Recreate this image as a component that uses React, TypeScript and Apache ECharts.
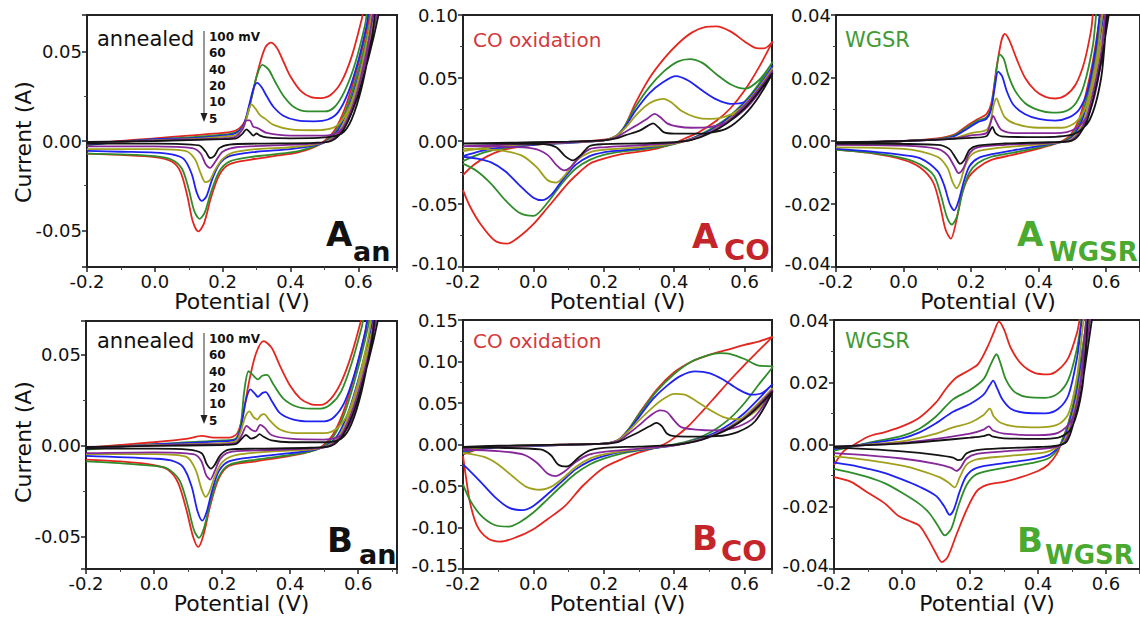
import React, { useEffect, useRef } from "react";
import * as echarts from "echarts";

// ---------- Colours / scan-rate labels ----------
const SCAN_RATES = ["100 mV", "60", "40", "20", "10", "5"];
const CURVE_COLORS = ["#e3261f", "#2f8c2a", "#1f22f0", "#a0a01c", "#86289a", "#141414"];

// ---------- Panel A_an ----------
const A_AN_100 = [[-0.2,-0.002],[-0.1,0.0],[0.0,0.0015],[0.1,0.003],[0.2,0.0045],[0.24,0.006],[0.265,0.011],[0.285,0.024],[0.305,0.04],[0.325,0.052],[0.342,0.055],[0.36,0.052],[0.38,0.044],[0.4,0.036],[0.43,0.028],[0.46,0.0245],[0.49,0.024],[0.52,0.026],[0.55,0.033],[0.58,0.047],[0.61,0.068],[0.625,0.08],
  [0.645,0.08],[0.62,0.058],[0.59,0.036],[0.56,0.018],[0.53,0.006],[0.5,0.0],[0.47,-0.0035],[0.42,-0.0065],[0.35,-0.0085],[0.28,-0.0105],[0.22,-0.013],[0.19,-0.019],[0.165,-0.032],[0.145,-0.046],[0.128,-0.0505],[0.112,-0.045],[0.095,-0.03],[0.075,-0.017],[0.05,-0.0115],[0.0,-0.009],[-0.1,-0.0078],[-0.2,-0.007]];
const A_AN_60 = [[-0.2,-0.0025],[-0.1,-0.0005],[0.0,0.001],[0.1,0.002],[0.2,0.0035],[0.24,0.005],[0.265,0.01],[0.285,0.024],[0.3,0.036],[0.317,0.0425],[0.335,0.04],[0.355,0.033],[0.38,0.025],[0.41,0.019],[0.45,0.0165],[0.5,0.0165],[0.53,0.019],[0.56,0.028],[0.59,0.043],[0.62,0.065],[0.635,0.08],
  [0.65,0.08],[0.625,0.058],[0.595,0.036],[0.565,0.018],[0.535,0.006],[0.505,0.0],[0.47,-0.003],[0.42,-0.0058],[0.35,-0.0075],[0.28,-0.009],[0.22,-0.0115],[0.19,-0.017],[0.165,-0.029],[0.147,-0.04],[0.132,-0.0435],[0.116,-0.039],[0.1,-0.027],[0.08,-0.0155],[0.05,-0.0105],[0.0,-0.0085],[-0.1,-0.0075],[-0.2,-0.007]];
const A_AN_40 = [[-0.2,-0.002],[-0.1,-0.0005],[0.0,0.001],[0.1,0.0015],[0.2,0.003],[0.24,0.0045],[0.262,0.009],[0.278,0.02],[0.292,0.03],[0.302,0.0325],[0.315,0.03],[0.33,0.025],[0.35,0.019],[0.38,0.014],[0.42,0.0115],[0.47,0.011],[0.51,0.012],[0.54,0.016],[0.57,0.027],[0.6,0.045],[0.625,0.065],[0.64,0.08],
  [0.655,0.08],[0.63,0.058],[0.6,0.036],[0.57,0.018],[0.54,0.006],[0.508,0.0],[0.47,-0.0025],[0.4,-0.0045],[0.3,-0.006],[0.22,-0.0085],[0.19,-0.013],[0.168,-0.022],[0.152,-0.031],[0.138,-0.0335],[0.124,-0.029],[0.108,-0.018],[0.085,-0.01],[0.05,-0.0075],[0.0,-0.0065],[-0.1,-0.006],[-0.2,-0.0055]];
const A_AN_20 = [[-0.2,-0.0015],[-0.1,-0.0005],[0.0,0.0005],[0.1,0.001],[0.2,0.0025],[0.24,0.0035],[0.262,0.008],[0.275,0.016],[0.285,0.0205],[0.297,0.018],[0.31,0.0145],[0.325,0.0125],[0.35,0.009],[0.4,0.0065],[0.47,0.006],[0.52,0.007],[0.55,0.011],[0.58,0.022],[0.61,0.042],[0.635,0.065],[0.65,0.08],
  [0.66,0.08],[0.635,0.058],[0.605,0.036],[0.575,0.018],[0.545,0.006],[0.51,0.0],[0.47,-0.002],[0.4,-0.0035],[0.3,-0.0045],[0.23,-0.0065],[0.2,-0.01],[0.178,-0.016],[0.162,-0.022],[0.149,-0.023],[0.135,-0.018],[0.118,-0.01],[0.09,-0.0055],[0.0,-0.0045],[-0.1,-0.0045],[-0.2,-0.0045]];
const A_AN_10 = [[-0.2,-0.001],[0.0,0.0003],[0.2,0.0015],[0.24,0.0025],[0.26,0.007],[0.27,0.0115],[0.28,0.0115],[0.29,0.008],[0.3,0.0075],[0.31,0.0065],[0.33,0.0045],[0.4,0.003],[0.5,0.003],[0.54,0.005],[0.57,0.012],[0.6,0.03],[0.63,0.055],[0.655,0.08],
  [0.665,0.08],[0.64,0.058],[0.61,0.036],[0.58,0.018],[0.55,0.006],[0.515,0.0],[0.47,-0.0015],[0.35,-0.0025],[0.24,-0.0035],[0.2,-0.006],[0.18,-0.011],[0.163,-0.015],[0.15,-0.013],[0.135,-0.007],[0.11,-0.004],[0.0,-0.003],[-0.2,-0.003]];
const A_AN_5 = [[-0.2,-0.0005],[0.0,0.0],[0.2,0.001],[0.24,0.0015],[0.258,0.004],[0.27,0.0065],[0.28,0.005],[0.29,0.003],[0.3,0.0042],[0.31,0.003],[0.33,0.002],[0.4,0.0015],[0.5,0.002],[0.55,0.004],[0.58,0.012],[0.61,0.03],[0.64,0.058],[0.66,0.08],
  [0.67,0.08],[0.645,0.058],[0.615,0.036],[0.585,0.018],[0.555,0.006],[0.52,0.0],[0.47,-0.001],[0.3,-0.0015],[0.22,-0.002],[0.19,-0.004],[0.175,-0.0085],[0.163,-0.0095],[0.15,-0.006],[0.13,-0.0025],[0.0,-0.0015],[-0.2,-0.0015]];

// ---------- Panel A_CO ----------
const A_CO_100 = [[-0.2,-0.027],[-0.17,-0.019],[-0.13,-0.012],[-0.09,-0.0075],[-0.05,-0.005],[0.0,-0.003],[0.1,-0.001],[0.2,0.001],[0.235,0.004],[0.26,0.012],[0.29,0.03],[0.33,0.05],[0.37,0.065],[0.41,0.077],[0.45,0.086],[0.49,0.0905],[0.52,0.091],[0.56,0.087],[0.6,0.079],[0.63,0.074],[0.655,0.0735],[0.68,0.079],
  [0.64,0.058],[0.6,0.04],[0.56,0.026],[0.52,0.016],[0.47,0.007],[0.43,0.002],[0.4,-0.002],[0.35,-0.006],[0.3,-0.0085],[0.25,-0.0105],[0.2,-0.014],[0.16,-0.018],[0.13,-0.025],[0.1,-0.033],[0.07,-0.043],[0.04,-0.053],[0.0,-0.066],[-0.04,-0.076],[-0.075,-0.0815],[-0.11,-0.079],[-0.15,-0.066],[-0.18,-0.052],[-0.2,-0.039]];
const A_CO_60 = [[-0.2,-0.016],[-0.15,-0.01],[-0.1,-0.0065],[-0.05,-0.0045],[0.0,-0.003],[0.1,-0.0015],[0.2,0.0005],[0.235,0.004],[0.26,0.012],[0.29,0.027],[0.33,0.043],[0.37,0.055],[0.41,0.063],[0.445,0.065],[0.48,0.062],[0.52,0.053],[0.56,0.045],[0.6,0.0415],[0.64,0.048],[0.68,0.063],
  [0.64,0.045],[0.6,0.031],[0.55,0.018],[0.5,0.009],[0.45,0.002],[0.4,-0.0025],[0.35,-0.005],[0.3,-0.007],[0.25,-0.0085],[0.2,-0.011],[0.16,-0.015],[0.12,-0.022],[0.08,-0.034],[0.04,-0.049],[0.0,-0.0595],[-0.04,-0.057],[-0.08,-0.047],[-0.12,-0.034],[-0.16,-0.024],[-0.2,-0.018]];
const A_CO_40 = [[-0.2,-0.012],[-0.15,-0.008],[-0.1,-0.0055],[0.0,-0.003],[0.1,-0.0015],[0.2,0.0005],[0.235,0.004],[0.26,0.011],[0.29,0.024],[0.33,0.038],[0.37,0.047],[0.405,0.0515],[0.44,0.048],[0.48,0.04],[0.52,0.033],[0.56,0.0295],[0.6,0.031],[0.64,0.042],[0.68,0.06],
  [0.64,0.043],[0.6,0.03],[0.55,0.017],[0.5,0.008],[0.45,0.002],[0.4,-0.002],[0.35,-0.004],[0.3,-0.006],[0.25,-0.0075],[0.2,-0.009],[0.16,-0.012],[0.12,-0.019],[0.08,-0.032],[0.05,-0.043],[0.025,-0.047],[0.0,-0.045],[-0.04,-0.035],[-0.08,-0.024],[-0.12,-0.017],[-0.16,-0.014],[-0.2,-0.0125]];
const A_CO_20 = [[-0.2,-0.008],[-0.1,-0.004],[0.0,-0.0025],[0.1,-0.001],[0.2,0.0005],[0.235,0.004],[0.26,0.01],[0.29,0.02],[0.32,0.028],[0.345,0.032],[0.37,0.0335],[0.395,0.03],[0.42,0.024],[0.46,0.019],[0.5,0.0175],[0.54,0.019],[0.58,0.024],[0.63,0.038],[0.68,0.058],
  [0.64,0.042],[0.6,0.029],[0.55,0.016],[0.5,0.007],[0.45,0.0015],[0.4,-0.002],[0.3,-0.005],[0.2,-0.007],[0.16,-0.009],[0.12,-0.016],[0.09,-0.027],[0.065,-0.033],[0.04,-0.031],[0.01,-0.021],[-0.03,-0.012],[-0.08,-0.008],[-0.14,-0.0065],[-0.2,-0.006]];
const A_CO_10 = [[-0.2,-0.004],[-0.1,-0.003],[0.0,-0.002],[0.1,-0.001],[0.2,0.0005],[0.235,0.003],[0.26,0.007],[0.29,0.012],[0.32,0.017],[0.345,0.0215],[0.36,0.019],[0.38,0.014],[0.41,0.0115],[0.45,0.0105],[0.5,0.011],[0.55,0.015],[0.6,0.025],[0.64,0.038],[0.68,0.056],
  [0.64,0.041],[0.6,0.028],[0.55,0.015],[0.5,0.0065],[0.45,0.001],[0.4,-0.0015],[0.3,-0.0035],[0.2,-0.005],[0.16,-0.0065],[0.13,-0.013],[0.105,-0.021],[0.086,-0.0233],[0.065,-0.019],[0.04,-0.011],[0.0,-0.006],[-0.1,-0.0045],[-0.2,-0.004]];
const A_CO_5 = [[-0.2,-0.002],[-0.1,-0.0015],[0.0,-0.001],[0.1,-0.0005],[0.2,0.0005],[0.235,0.002],[0.26,0.0045],[0.3,0.008],[0.325,0.012],[0.34,0.014],[0.355,0.011],[0.37,0.007],[0.4,0.0058],[0.45,0.0058],[0.5,0.0065],[0.55,0.01],[0.6,0.021],[0.64,0.035],[0.68,0.054],
  [0.64,0.039],[0.6,0.026],[0.55,0.014],[0.5,0.006],[0.45,0.0008],[0.4,-0.001],[0.3,-0.002],[0.2,-0.0025],[0.16,-0.004],[0.135,-0.011],[0.112,-0.0154],[0.09,-0.012],[0.065,-0.005],[0.03,-0.0025],[-0.1,-0.002],[-0.2,-0.002]];

// ---------- Panel A_WGSR ----------
const A_WG_100 = [[-0.2,-0.0008],[-0.1,-0.0004],[0.0,0.0],[0.1,0.0008],[0.15,0.002],[0.19,0.005],[0.22,0.007],[0.245,0.0085],[0.26,0.012],[0.275,0.023],[0.29,0.032],[0.3,0.034],[0.313,0.032],[0.335,0.026],[0.36,0.02],[0.39,0.016],[0.42,0.014],[0.45,0.0135],[0.48,0.0145],[0.51,0.018],[0.535,0.025],[0.555,0.035],[0.57,0.045],
  [0.59,0.045],[0.575,0.035],[0.56,0.025],[0.54,0.015],[0.52,0.007],[0.495,0.002],[0.47,0.0],[0.43,-0.0015],[0.38,-0.003],[0.32,-0.0045],[0.26,-0.006],[0.22,-0.0085],[0.19,-0.012],[0.17,-0.018],[0.155,-0.026],[0.14,-0.031],[0.124,-0.028],[0.107,-0.02],[0.087,-0.013],[0.05,-0.0085],[0.0,-0.006],[-0.1,-0.0038],[-0.2,-0.0027]];
const A_WG_60 = [[-0.2,-0.0008],[0.0,0.0],[0.1,0.0006],[0.15,0.0018],[0.19,0.0045],[0.22,0.0065],[0.245,0.0075],[0.26,0.011],[0.272,0.02],[0.285,0.0275],[0.297,0.026],[0.31,0.021],[0.33,0.016],[0.36,0.012],[0.4,0.0098],[0.44,0.009],[0.48,0.0095],[0.51,0.012],[0.535,0.018],[0.56,0.03],[0.58,0.045],
  [0.595,0.045],[0.58,0.035],[0.565,0.025],[0.545,0.015],[0.525,0.007],[0.5,0.002],[0.475,0.0],[0.43,-0.0013],[0.38,-0.0025],[0.32,-0.0038],[0.26,-0.005],[0.22,-0.007],[0.195,-0.01],[0.175,-0.016],[0.158,-0.024],[0.143,-0.0265],[0.128,-0.024],[0.11,-0.017],[0.09,-0.011],[0.05,-0.0075],[0.0,-0.0055],[-0.1,-0.0037],[-0.2,-0.0027]];
const A_WG_40 = [[-0.2,-0.0008],[0.0,0.0],[0.1,0.0005],[0.15,0.0015],[0.19,0.004],[0.22,0.006],[0.245,0.007],[0.258,0.0095],[0.27,0.017],[0.28,0.022],[0.292,0.0205],[0.305,0.016],[0.325,0.0115],[0.36,0.0085],[0.4,0.007],[0.45,0.0065],[0.49,0.0075],[0.52,0.01],[0.545,0.016],[0.57,0.03],[0.59,0.045],
  [0.6,0.045],[0.585,0.035],[0.57,0.025],[0.55,0.015],[0.53,0.007],[0.505,0.002],[0.48,0.0],[0.43,-0.001],[0.35,-0.0025],[0.27,-0.004],[0.22,-0.0055],[0.195,-0.008],[0.178,-0.013],[0.163,-0.019],[0.15,-0.022],[0.137,-0.02],[0.12,-0.014],[0.1,-0.0095],[0.05,-0.0055],[0.0,-0.0045],[-0.1,-0.0033],[-0.2,-0.0025]];
const A_WG_20 = [[-0.2,-0.0006],[0.0,0.0],[0.15,0.001],[0.2,0.0025],[0.245,0.0035],[0.257,0.006],[0.267,0.0115],[0.275,0.0135],[0.285,0.011],[0.3,0.0075],[0.33,0.0055],[0.4,0.0042],[0.47,0.0042],[0.51,0.006],[0.54,0.011],[0.57,0.025],[0.6,0.045],
  [0.605,0.045],[0.59,0.035],[0.575,0.025],[0.555,0.015],[0.535,0.007],[0.51,0.002],[0.485,0.0],[0.43,-0.0008],[0.32,-0.0018],[0.23,-0.003],[0.2,-0.0045],[0.182,-0.008],[0.168,-0.013],[0.157,-0.015],[0.145,-0.013],[0.13,-0.0085],[0.1,-0.005],[0.0,-0.0025],[-0.2,-0.002]];
const A_WG_10 = [[-0.2,-0.0005],[0.0,0.0],[0.15,0.0008],[0.2,0.0018],[0.245,0.0025],[0.257,0.0055],[0.265,0.008],[0.275,0.006],[0.29,0.0035],[0.33,0.0025],[0.45,0.0025],[0.51,0.004],[0.55,0.009],[0.58,0.022],[0.605,0.045],
  [0.61,0.045],[0.595,0.035],[0.58,0.025],[0.56,0.015],[0.54,0.007],[0.515,0.002],[0.49,0.0],[0.43,-0.0006],[0.3,-0.0012],[0.22,-0.002],[0.195,-0.004],[0.178,-0.0085],[0.163,-0.0102],[0.15,-0.008],[0.13,-0.0045],[0.1,-0.0025],[0.0,-0.0015],[-0.2,-0.0012]];
const A_WG_5 = [[-0.2,-0.0004],[0.0,0.0],[0.2,0.001],[0.245,0.0015],[0.257,0.0035],[0.263,0.0045],[0.272,0.0025],[0.29,0.0015],[0.4,0.0012],[0.5,0.002],[0.55,0.0065],[0.585,0.02],[0.61,0.045],
  [0.615,0.045],[0.6,0.035],[0.585,0.025],[0.565,0.015],[0.545,0.007],[0.52,0.002],[0.495,0.0],[0.43,-0.0004],[0.3,-0.0008],[0.22,-0.0015],[0.195,-0.0028],[0.18,-0.006],[0.167,-0.0072],[0.155,-0.0055],[0.135,-0.0025],[0.1,-0.0012],[-0.2,-0.0008]];

// ---------- Panel B_an ----------
const B_AN_100 = [[-0.2,-0.001],[-0.1,0.0005],[0.0,0.002],[0.1,0.004],[0.14,0.0055],[0.18,0.0045],[0.22,0.0045],[0.245,0.007],[0.262,0.018],[0.28,0.036],[0.3,0.051],[0.322,0.0575],[0.345,0.054],[0.37,0.044],[0.4,0.033],[0.43,0.026],[0.46,0.023],[0.49,0.0225],[0.52,0.026],[0.55,0.035],[0.58,0.05],[0.61,0.07],[0.625,0.08],
  [0.64,0.08],[0.615,0.058],[0.585,0.036],[0.555,0.018],[0.525,0.006],[0.495,0.0],[0.46,-0.003],[0.4,-0.0055],[0.3,-0.0085],[0.22,-0.011],[0.19,-0.018],[0.165,-0.033],[0.145,-0.049],[0.13,-0.0555],[0.115,-0.05],[0.095,-0.035],[0.07,-0.02],[0.04,-0.013],[0.0,-0.0105],[-0.1,-0.0085],[-0.2,-0.0075]];
const B_AN_60 = [[-0.2,-0.002],[-0.1,-0.0005],[0.0,0.001],[0.1,0.002],[0.2,0.003],[0.24,0.004],[0.255,0.012],[0.265,0.03],[0.278,0.041],[0.29,0.039],[0.305,0.0365],[0.318,0.0385],[0.332,0.039],[0.35,0.034],[0.38,0.026],[0.42,0.0215],[0.46,0.0205],[0.49,0.0205],[0.52,0.023],[0.55,0.03],[0.58,0.045],[0.61,0.065],[0.63,0.08],
  [0.645,0.08],[0.62,0.058],[0.59,0.036],[0.56,0.018],[0.53,0.006],[0.5,0.0],[0.46,-0.003],[0.4,-0.005],[0.3,-0.0075],[0.22,-0.0105],[0.19,-0.017],[0.167,-0.03],[0.147,-0.045],[0.132,-0.0505],[0.117,-0.046],[0.098,-0.032],[0.075,-0.019],[0.04,-0.0125],[0.0,-0.011],[-0.1,-0.0095],[-0.2,-0.0085]];
const B_AN_40 = [[-0.2,-0.0015],[0.0,0.0008],[0.2,0.0025],[0.24,0.0035],[0.255,0.01],[0.27,0.025],[0.283,0.031],[0.295,0.029],[0.305,0.027],[0.318,0.029],[0.328,0.0295],[0.345,0.025],[0.37,0.018],[0.41,0.0145],[0.46,0.0135],[0.5,0.0135],[0.53,0.016],[0.56,0.024],[0.59,0.04],[0.62,0.062],[0.64,0.08],
  [0.655,0.08],[0.63,0.058],[0.6,0.036],[0.57,0.018],[0.54,0.006],[0.505,0.0],[0.46,-0.0025],[0.4,-0.004],[0.3,-0.006],[0.22,-0.0085],[0.19,-0.014],[0.17,-0.025],[0.155,-0.036],[0.142,-0.041],[0.128,-0.036],[0.11,-0.022],[0.085,-0.0115],[0.05,-0.008],[0.0,-0.007],[-0.2,-0.0055]];
const B_AN_20 = [[-0.2,-0.001],[0.0,0.0005],[0.2,0.0015],[0.24,0.0025],[0.255,0.008],[0.268,0.016],[0.28,0.019],[0.292,0.016],[0.303,0.0145],[0.315,0.017],[0.323,0.0175],[0.34,0.014],[0.37,0.009],[0.42,0.007],[0.5,0.007],[0.54,0.01],[0.57,0.018],[0.6,0.035],[0.63,0.06],[0.65,0.08],
  [0.66,0.08],[0.635,0.058],[0.605,0.036],[0.575,0.018],[0.545,0.006],[0.51,0.0],[0.46,-0.002],[0.35,-0.003],[0.24,-0.005],[0.2,-0.009],[0.178,-0.017],[0.163,-0.025],[0.152,-0.028],[0.14,-0.024],[0.122,-0.013],[0.095,-0.006],[0.0,-0.0045],[-0.2,-0.0045]];
const B_AN_10 = [[-0.2,-0.001],[0.0,0.0003],[0.2,0.001],[0.24,0.0015],[0.258,0.006],[0.272,0.011],[0.285,0.009],[0.298,0.008],[0.312,0.0115],[0.325,0.01],[0.345,0.006],[0.4,0.004],[0.5,0.0035],[0.55,0.006],[0.58,0.014],[0.61,0.032],[0.64,0.06],[0.655,0.08],
  [0.665,0.08],[0.64,0.058],[0.61,0.036],[0.58,0.018],[0.55,0.006],[0.515,0.0],[0.46,-0.0015],[0.3,-0.0025],[0.22,-0.0035],[0.195,-0.007],[0.178,-0.014],[0.165,-0.0185],[0.153,-0.016],[0.138,-0.008],[0.115,-0.0045],[0.0,-0.0035],[-0.2,-0.004]];
const B_AN_5 = [[-0.2,-0.0005],[0.0,0.0],[0.2,0.0005],[0.24,0.001],[0.258,0.004],[0.27,0.006],[0.285,0.004],[0.3,0.005],[0.31,0.0065],[0.322,0.005],[0.345,0.003],[0.4,0.002],[0.5,0.002],[0.55,0.004],[0.58,0.012],[0.61,0.03],[0.64,0.058],[0.66,0.08],
  [0.67,0.08],[0.645,0.058],[0.615,0.036],[0.585,0.018],[0.555,0.006],[0.52,0.0],[0.46,-0.001],[0.3,-0.0015],[0.22,-0.002],[0.195,-0.005],[0.178,-0.0105],[0.167,-0.0125],[0.155,-0.01],[0.14,-0.004],[0.1,-0.002],[0.0,-0.0015],[-0.2,-0.0015]];

// ---------- Panel B_CO ----------
const B_CO_100 = [[-0.2,-0.012],[-0.15,-0.005],[-0.1,-0.003],[0.0,-0.0015],[0.1,-0.0005],[0.2,0.001],[0.24,0.005],[0.27,0.018],[0.3,0.037],[0.35,0.066],[0.4,0.087],[0.45,0.1],[0.5,0.108],[0.55,0.114],[0.6,0.12],[0.64,0.124],[0.68,0.13],
  [0.64,0.113],[0.6,0.096],[0.56,0.078],[0.52,0.059],[0.48,0.04],[0.44,0.022],[0.4,0.008],[0.37,0.0],[0.33,-0.006],[0.29,-0.011],[0.26,-0.016],[0.2,-0.028],[0.14,-0.05],[0.09,-0.074],[0.04,-0.09],[0.0,-0.102],[-0.05,-0.112],[-0.095,-0.117],[-0.13,-0.113],[-0.16,-0.098],[-0.18,-0.07],[-0.193,-0.035],[-0.2,-0.014]];
const B_CO_60 = [[-0.2,-0.01],[-0.15,-0.005],[-0.1,-0.003],[0.0,-0.0015],[0.1,-0.0005],[0.2,0.001],[0.24,0.005],[0.27,0.018],[0.3,0.036],[0.35,0.064],[0.4,0.085],[0.45,0.1],[0.5,0.108],[0.53,0.11],[0.56,0.109],[0.6,0.103],[0.64,0.095],[0.68,0.094],
  [0.64,0.072],[0.6,0.05],[0.56,0.032],[0.52,0.019],[0.48,0.01],[0.44,0.004],[0.4,0.0],[0.35,-0.004],[0.3,-0.007],[0.25,-0.011],[0.2,-0.017],[0.16,-0.024],[0.12,-0.035],[0.08,-0.05],[0.04,-0.066],[0.0,-0.082],[-0.04,-0.094],[-0.07,-0.099],[-0.11,-0.097],[-0.15,-0.085],[-0.18,-0.067],[-0.2,-0.048]];
const B_CO_40 = [[-0.2,-0.008],[-0.1,-0.003],[0.0,-0.0015],[0.1,-0.0005],[0.2,0.001],[0.24,0.005],[0.27,0.017],[0.3,0.033],[0.34,0.055],[0.38,0.071],[0.42,0.083],[0.46,0.088],[0.5,0.086],[0.54,0.078],[0.58,0.067],[0.62,0.06],[0.65,0.062],[0.68,0.073],
  [0.64,0.055],[0.6,0.038],[0.56,0.025],[0.52,0.015],[0.48,0.008],[0.44,0.003],[0.4,-0.001],[0.35,-0.004],[0.3,-0.0065],[0.25,-0.009],[0.2,-0.014],[0.16,-0.02],[0.12,-0.03],[0.08,-0.045],[0.04,-0.06],[0.0,-0.074],[-0.03,-0.079],[-0.07,-0.076],[-0.11,-0.063],[-0.15,-0.045],[-0.18,-0.032],[-0.2,-0.024]];
const B_CO_20 = [[-0.2,-0.006],[-0.1,-0.0025],[0.0,-0.001],[0.1,0.0],[0.2,0.001],[0.24,0.005],[0.27,0.016],[0.3,0.029],[0.34,0.045],[0.37,0.055],[0.4,0.061],[0.43,0.06],[0.46,0.053],[0.5,0.042],[0.54,0.033],[0.57,0.0305],[0.61,0.034],[0.65,0.048],[0.68,0.068],
  [0.64,0.05],[0.6,0.034],[0.56,0.022],[0.52,0.013],[0.48,0.007],[0.44,0.0025],[0.4,-0.001],[0.35,-0.0035],[0.3,-0.006],[0.25,-0.0085],[0.2,-0.012],[0.16,-0.017],[0.12,-0.027],[0.08,-0.042],[0.05,-0.051],[0.02,-0.0545],[-0.02,-0.051],[-0.06,-0.038],[-0.1,-0.024],[-0.14,-0.015],[-0.2,-0.01]];
const B_CO_10 = [[-0.2,-0.004],[-0.1,-0.002],[0.0,-0.001],[0.1,0.0],[0.2,0.001],[0.24,0.004],[0.27,0.013],[0.3,0.023],[0.33,0.034],[0.36,0.041],[0.38,0.039],[0.4,0.029],[0.42,0.021],[0.46,0.018],[0.52,0.017],[0.57,0.02],[0.62,0.03],[0.65,0.045],[0.68,0.066],
  [0.64,0.048],[0.6,0.032],[0.56,0.021],[0.52,0.0125],[0.48,0.0065],[0.44,0.002],[0.4,-0.001],[0.3,-0.005],[0.2,-0.009],[0.16,-0.012],[0.12,-0.021],[0.09,-0.032],[0.062,-0.038],[0.04,-0.035],[0.01,-0.022],[-0.03,-0.012],[-0.1,-0.008],[-0.2,-0.006]];
const B_CO_5 = [[-0.2,-0.003],[-0.1,-0.0015],[0.0,-0.0008],[0.1,0.0],[0.2,0.001],[0.24,0.003],[0.27,0.009],[0.3,0.015],[0.33,0.022],[0.35,0.026],[0.365,0.022],[0.38,0.013],[0.4,0.01],[0.45,0.0095],[0.52,0.01],[0.58,0.015],[0.63,0.028],[0.68,0.064],
  [0.64,0.046],[0.6,0.031],[0.56,0.02],[0.52,0.012],[0.48,0.006],[0.44,0.002],[0.4,-0.0005],[0.3,-0.0025],[0.2,-0.004],[0.16,-0.007],[0.13,-0.015],[0.095,-0.0265],[0.07,-0.024],[0.05,-0.013],[0.02,-0.006],[-0.1,-0.004],[-0.2,-0.0035]];

// ---------- Panel B_WGSR ----------
const B_WG_100 = [[-0.2,-0.0065],[-0.17,-0.002],[-0.14,0.0],[-0.1,0.0025],[-0.05,0.004],[0.0,0.0058],[0.05,0.0085],[0.1,0.0135],[0.13,0.018],[0.16,0.0215],[0.2,0.024],[0.225,0.026],[0.25,0.031],[0.27,0.036],[0.285,0.0395],[0.3,0.037],[0.32,0.031],[0.35,0.026],[0.39,0.023],[0.43,0.0225],[0.46,0.024],[0.49,0.028],[0.515,0.036],[0.535,0.045],
  [0.55,0.045],[0.53,0.03],[0.51,0.016],[0.49,0.007],[0.47,0.001],[0.455,-0.003],[0.43,-0.0065],[0.4,-0.0085],[0.35,-0.0105],[0.3,-0.012],[0.25,-0.013],[0.22,-0.015],[0.19,-0.021],[0.16,-0.029],[0.135,-0.036],[0.117,-0.0378],[0.1,-0.035],[0.075,-0.03],[0.05,-0.026],[0.02,-0.0245],[-0.01,-0.023],[-0.05,-0.019],[-0.1,-0.0155],[-0.15,-0.012],[-0.2,-0.0105]];
const B_WG_60 = [[-0.2,-0.002],[-0.1,0.0005],[0.0,0.0028],[0.05,0.005],[0.1,0.009],[0.15,0.0145],[0.2,0.0175],[0.24,0.021],[0.262,0.026],[0.278,0.029],[0.29,0.026],[0.305,0.021],[0.33,0.017],[0.37,0.0152],[0.42,0.015],[0.46,0.0165],[0.49,0.021],[0.515,0.031],[0.54,0.045],
  [0.55,0.045],[0.53,0.03],[0.51,0.016],[0.49,0.007],[0.47,0.001],[0.455,-0.002],[0.43,-0.0045],[0.38,-0.006],[0.3,-0.0075],[0.22,-0.0095],[0.19,-0.013],[0.165,-0.02],[0.145,-0.027],[0.126,-0.0292],[0.105,-0.026],[0.08,-0.022],[0.05,-0.019],[0.0,-0.0155],[-0.05,-0.0125],[-0.1,-0.0105],[-0.15,-0.009],[-0.2,-0.0078]];
const B_WG_40 = [[-0.2,-0.0015],[-0.1,0.0003],[0.0,0.002],[0.05,0.0038],[0.1,0.0068],[0.15,0.0105],[0.2,0.013],[0.24,0.016],[0.258,0.019],[0.268,0.0205],[0.28,0.018],[0.295,0.0145],[0.32,0.0115],[0.36,0.0102],[0.42,0.01],[0.46,0.0115],[0.49,0.016],[0.515,0.028],[0.54,0.045],
  [0.552,0.045],[0.533,0.03],[0.513,0.016],[0.493,0.007],[0.473,0.001],[0.455,-0.0015],[0.43,-0.0035],[0.38,-0.0048],[0.3,-0.006],[0.22,-0.0075],[0.19,-0.01],[0.17,-0.015],[0.152,-0.021],[0.14,-0.0226],[0.125,-0.02],[0.1,-0.0165],[0.05,-0.0135],[0.0,-0.0112],[-0.05,-0.0092],[-0.1,-0.0078],[-0.15,-0.0066],[-0.2,-0.0058]];
const B_WG_20 = [[-0.2,-0.001],[-0.1,0.0],[0.0,0.001],[0.1,0.0035],[0.15,0.0055],[0.2,0.007],[0.24,0.0095],[0.258,0.0115],[0.27,0.009],[0.29,0.007],[0.33,0.0058],[0.4,0.0055],[0.46,0.0065],[0.49,0.01],[0.515,0.022],[0.545,0.045],
  [0.555,0.045],[0.536,0.03],[0.516,0.016],[0.496,0.007],[0.476,0.001],[0.455,-0.001],[0.42,-0.0025],[0.3,-0.0038],[0.22,-0.0048],[0.19,-0.0065],[0.17,-0.0105],[0.155,-0.0138],[0.14,-0.0125],[0.11,-0.0105],[0.05,-0.0082],[0.0,-0.0068],[-0.1,-0.005],[-0.2,-0.0038]];
const B_WG_10 = [[-0.2,-0.0008],[0.0,0.0005],[0.1,0.0018],[0.2,0.0035],[0.24,0.0048],[0.255,0.0058],[0.268,0.0045],[0.3,0.0035],[0.4,0.003],[0.46,0.0038],[0.5,0.008],[0.525,0.02],[0.55,0.045],
  [0.56,0.045],[0.54,0.03],[0.52,0.016],[0.5,0.007],[0.48,0.001],[0.455,-0.0008],[0.4,-0.0015],[0.3,-0.0022],[0.22,-0.003],[0.19,-0.0045],[0.172,-0.0075],[0.16,-0.0085],[0.145,-0.0075],[0.1,-0.0062],[0.0,-0.0045],[-0.1,-0.0035],[-0.2,-0.0028]];
const B_WG_5 = [[-0.2,-0.0006],[0.0,0.0003],[0.1,0.0012],[0.2,0.0022],[0.24,0.0027],[0.255,0.0032],[0.268,0.0025],[0.3,0.002],[0.4,0.0018],[0.46,0.0022],[0.5,0.0055],[0.53,0.018],[0.555,0.045],
  [0.565,0.045],[0.545,0.03],[0.525,0.016],[0.505,0.007],[0.485,0.001],[0.455,-0.0004],[0.4,-0.0008],[0.3,-0.0012],[0.22,-0.0018],[0.19,-0.0028],[0.175,-0.0048],[0.164,-0.005],[0.15,-0.0042],[0.1,-0.0033],[0.0,-0.0022],[-0.1,-0.0015],[-0.2,-0.001]];

const PANEL_CURVES = [
  [A_AN_100, A_AN_60, A_AN_40, A_AN_20, A_AN_10, A_AN_5],
  [A_CO_100, A_CO_60, A_CO_40, A_CO_20, A_CO_10, A_CO_5],
  [A_WG_100, A_WG_60, A_WG_40, A_WG_20, A_WG_10, A_WG_5],
  [B_AN_100, B_AN_60, B_AN_40, B_AN_20, B_AN_10, B_AN_5],
  [B_CO_100, B_CO_60, B_CO_40, B_CO_20, B_CO_10, B_CO_5],
  [B_WG_100, B_WG_60, B_WG_40, B_WG_20, B_WG_10, B_WG_5],
];

// axis ranges per panel
const X_MAX = [0.714, 0.678, 0.7, 0.714, 0.678, 0.7];
const Y_MIN = [-0.0704, -0.1, -0.04, -0.0676, -0.15, -0.04];
const Y_MAX = [0.0704, 0.1, 0.04, 0.0686, 0.15, 0.04];
const Y_INTERVAL = [null, 0.05, 0.02, null, 0.05, 0.02];

// layout (pixels)
const GRID_BOX = [
  { left: 87, top: 15, width: 310, height: 252 },
  { left: 463, top: 15, width: 309, height: 252 },
  { left: 836, top: 15, width: 317, height: 252 },
  { left: 86, top: 321, width: 311, height: 248 },
  { left: 463, top: 320, width: 309, height: 249 },
  { left: 834, top: 320, width: 317, height: 249 },
];

const FONT = "'DejaVu Sans', sans-serif";
const RED_LABEL = "#c4252b";
const GREEN_LABEL = "#4aa92e";

function buildOption() {
  const grid: any[] = [];
  const xAxis: any[] = [];
  const yAxis: any[] = [];
  const series: any[] = [];
  for (let i = 0; i < 6; i++) {
    grid.push({ ...GRID_BOX[i], show: true, borderColor: "#222", borderWidth: 2, backgroundColor: "transparent" });
    xAxis.push({
      type: "value", gridIndex: i, min: -0.2, max: X_MAX[i], interval: 0.2,
      name: "Potential (V)", nameLocation: "middle", nameGap: 23,
      nameTextStyle: { fontFamily: FONT, fontSize: 22, color: "#111" },
      axisLine: { show: true, onZero: false, lineStyle: { color: "#222", width: 2 } },
      axisTick: { show: true, inside: false, length: 5, lineStyle: { color: "#222", width: 1.5 } },
      minorTick: { show: true, splitNumber: 2, length: 3, lineStyle: { color: "#444", width: 1 } },
      splitLine: { show: false },
      axisLabel: { fontFamily: FONT, fontSize: 18, lineHeight: 14, color: "#111", margin: 7, showMaxLabel: false,
        formatter: (v: number) => v.toFixed(1) },
    });
    const yMin = Y_MIN[i];
    const y: any = {
      type: "value", gridIndex: i, min: Y_MIN[i], max: Y_MAX[i],
      axisLine: { show: true, onZero: false, lineStyle: { color: "#222", width: 2 } },
      axisTick: { show: true, inside: false, length: 5, lineStyle: { color: "#222", width: 1.5 } },
      minorTick: { show: true, splitNumber: 2, length: 3, lineStyle: { color: "#444", width: 1 } },
      splitLine: { show: false },
      axisLabel: { fontFamily: FONT, fontSize: 18, lineHeight: 12, color: "#111", margin: 5,
        formatter: (v: number) => (Math.abs(v - yMin) < 1e-9 ? `{lo|${v.toFixed(2)}}` : v.toFixed(2)),
        rich: { lo: { fontFamily: FONT, fontSize: 18, lineHeight: 12, color: "#111", padding: [0, 0, 7, 0] } } },
    };
    if (Y_INTERVAL[i]) { y.interval = Y_INTERVAL[i]; }
    else { y.splitNumber = 3; y.axisLabel.showMinLabel = false; y.axisLabel.showMaxLabel = false; }
    yAxis.push(y);
    PANEL_CURVES[i].forEach((curve, k) => {
      series.push({
        type: "line", xAxisIndex: i, yAxisIndex: i, data: curve,
        showSymbol: false, smooth: 0.3, clip: true,
        lineStyle: { color: CURVE_COLORS[k], width: 1.8 },
        itemStyle: { color: CURVE_COLORS[k] },
        silent: true,
      });
    });
  }

  const txt = (text: string, x: number, y: number, size: number, color: string, bold = false) => ({
    type: "text", x, y, silent: true, z: 100,
    style: { text, fill: color, fontFamily: FONT, fontSize: size, fontWeight: bold ? "bold" : "normal",
      textAlign: "left", textVerticalAlign: "middle" },
  });

  const graphic: any[] = [];
  // y-axis titles
  [142, 442].forEach((cy) => {
    graphic.push({ type: "text", x: 23, y: cy, rotation: Math.PI / 2, silent: true,
      style: { text: "Current (A)", fill: "#111", fontFamily: FONT, fontSize: 22, textAlign: "center", textVerticalAlign: "middle" } });
  });
  // annealed + scan-rate legend (two panels)
  [0, 302].forEach((dy) => {
    graphic.push(txt("annealed", 97, 39 + dy, 21, "#111"));
    graphic.push({ type: "line", silent: true, shape: { x1: 204, y1: 31 + dy, x2: 204, y2: 116 + dy }, style: { stroke: "#555", lineWidth: 1.2 } });
    graphic.push({ type: "polygon", silent: true, shape: { points: [[200.5, 113 + dy], [207.5, 113 + dy], [204, 122 + dy]] }, style: { fill: "#222" } });
    SCAN_RATES.forEach((s, k) => {
      graphic.push(txt(s, 209, 37 + dy + k * 16.3, 12, "#111", true));
    });
  });
  // CO oxidation / WGSR tags
  [0, 301].forEach((dy) => {
    graphic.push(txt("CO oxidation", 473, 40 + dy, 20, "#d43a3c"));
    graphic.push(txt("WGSR", 845, 40 + dy, 21, "#3f9a34"));
  });
  // panel letters
  graphic.push(txt("A", 326, 234, 34, "#111", true));
  graphic.push(txt("an", 353, 251, 27, "#111", true));
  graphic.push(txt("A", 692, 236, 34, RED_LABEL, true));
  graphic.push(txt("CO", 724, 250, 29, RED_LABEL, true));
  graphic.push(txt("A", 1017, 234, 34, GREEN_LABEL, true));
  graphic.push(txt("WGSR", 1049, 252, 26, GREEN_LABEL, true));
  graphic.push(txt("B", 327, 540, 34, "#111", true));
  graphic.push(txt("an", 359, 554, 27, "#111", true));
  graphic.push(txt("B", 692, 538, 34, RED_LABEL, true));
  graphic.push(txt("CO", 721, 551, 29, RED_LABEL, true));
  graphic.push(txt("B", 1017, 540, 34, GREEN_LABEL, true));
  graphic.push(txt("WGSR", 1045, 555, 26, GREEN_LABEL, true));

  return { animation: false, backgroundColor: "#fff", grid, xAxis, yAxis, series, graphic };
}

export default function App() {
  const ref = useRef<HTMLDivElement>(null);
  useEffect(() => {
    if (!ref.current) return;
    const chart = echarts.init(ref.current, undefined, { renderer: "svg" });
    chart.setOption(buildOption() as any);
    return () => chart.dispose();
  }, []);
  return <div ref={ref} style={{ position: "absolute", left: 0, top: 0, width: 1140, height: 626, overflow: "hidden" }} />;
}
